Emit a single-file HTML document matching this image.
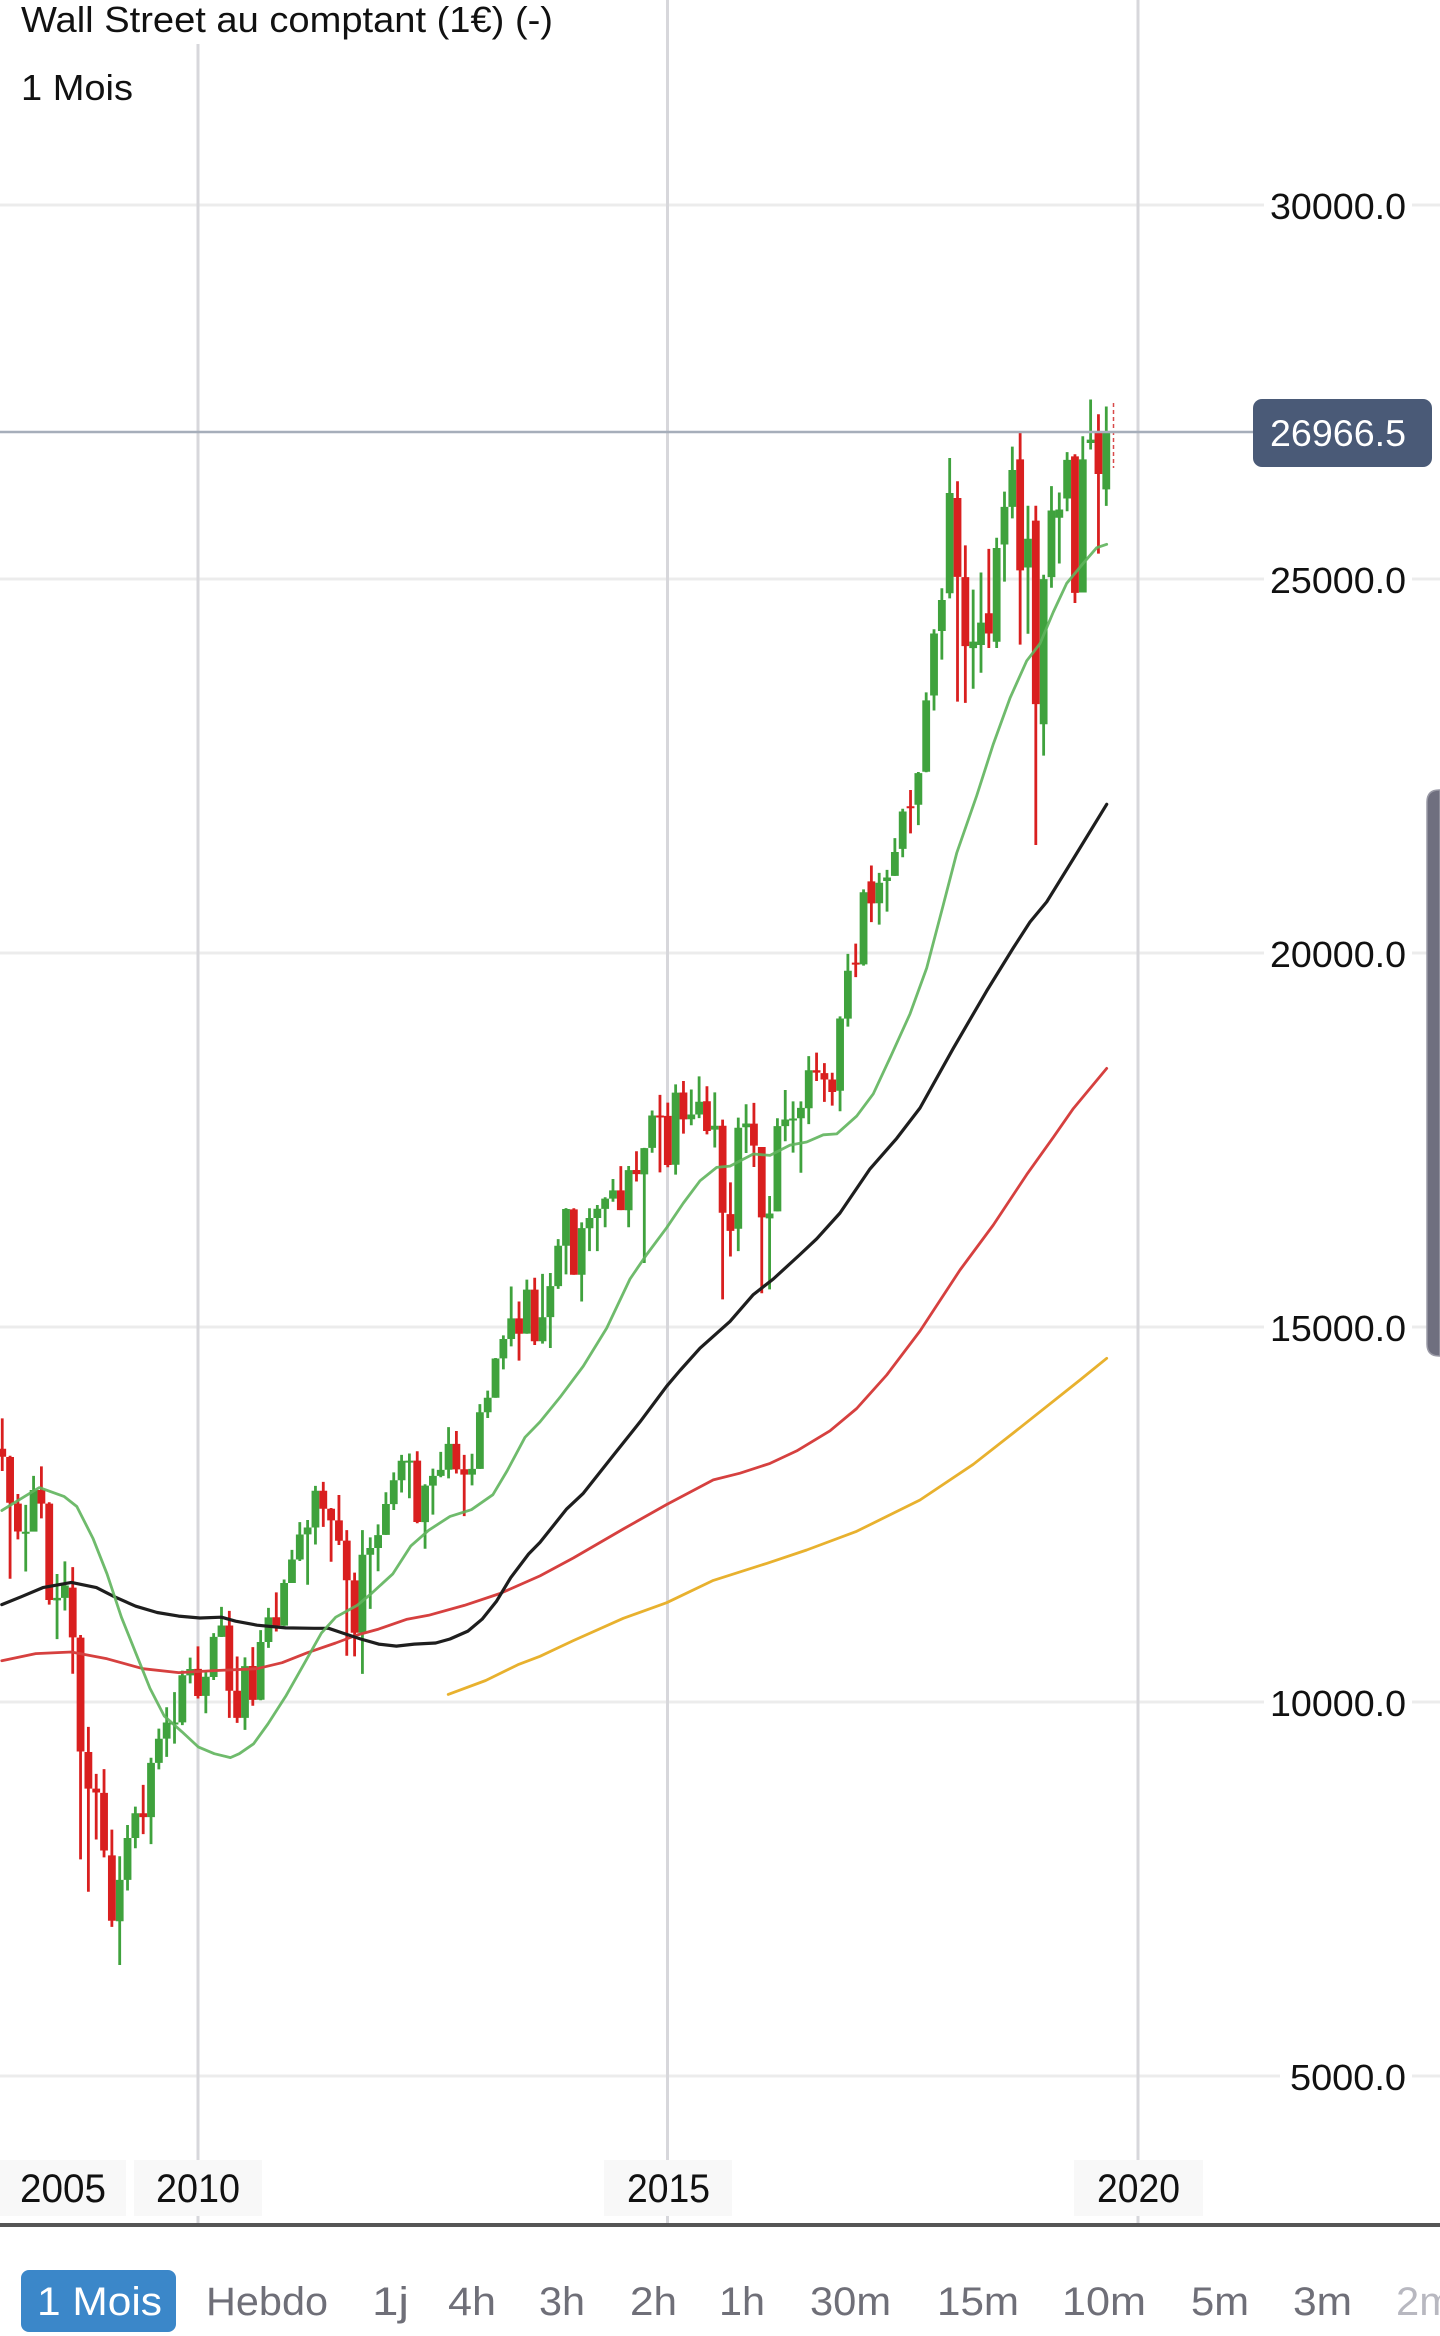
<!DOCTYPE html>
<html>
<head>
<meta charset="utf-8">
<style>
html,body{margin:0;padding:0;background:#fff;}
body{width:1440px;height:2336px;overflow:hidden;}
svg{display:block;}
text{font-family:"Liberation Sans",Arial,sans-serif;}
</style>
</head>
<body>
<svg id="chart" width="1440" height="2336" viewBox="0 0 1440 2336" xmlns="http://www.w3.org/2000/svg">
  <rect x="0" y="0" width="1440" height="2336" fill="#ffffff"/>
  <!-- horizontal gridlines -->
  <g stroke="#ececec" stroke-width="3">
    <line x1="0" y1="205" x2="1440" y2="205"/>
    <line x1="0" y1="579" x2="1440" y2="579"/>
    <line x1="0" y1="953" x2="1440" y2="953"/>
    <line x1="0" y1="1327" x2="1440" y2="1327"/>
    <line x1="0" y1="1702" x2="1440" y2="1702"/>
    <line x1="0" y1="2076" x2="1440" y2="2076"/>
  </g>
  <!-- vertical gridlines -->
  <g stroke="#d7d7db" stroke-width="3">
    <line x1="198" y1="44" x2="198" y2="2224"/>
    <line x1="667.5" y1="0" x2="667.5" y2="2224"/>
    <line x1="1138" y1="0" x2="1138" y2="2224"/>
  </g>

  <g id="candles"></g>

  <!-- moving averages -->
  <g fill="none" stroke-linejoin="round" stroke-linecap="round">
    <polyline id="maY" stroke="#e8b12e" stroke-width="2.8" points=""/>
    <polyline id="maR" stroke="#d6403f" stroke-width="2.8" points=""/>
    <polyline id="maK" stroke="#1e1e1e" stroke-width="3.2" points=""/>
    <polyline id="maG" stroke="#5fb45c" stroke-opacity="0.9" stroke-width="2.8" points=""/>
  </g>

  <!-- current marker -->
  <line x1="1113.5" y1="403" x2="1113.5" y2="468" stroke="#d84a4a" stroke-width="1.5" stroke-dasharray="4 3"/>

  <!-- price line -->
  <line x1="0" y1="432" x2="1254" y2="432" stroke="#a6aeba" stroke-width="2.5"/>

  <!-- title -->
  <rect x="0" y="0" width="570" height="44" fill="#ffffff"/>
  <text x="21" y="32" font-size="36" fill="#111" textLength="532" lengthAdjust="spacingAndGlyphs">Wall Street au comptant (1€) (-)</text>
  <text x="21" y="100" font-size="36" fill="#111" textLength="112" lengthAdjust="spacingAndGlyphs">1 Mois</text>

  <!-- y axis labels -->
  <g fill="#ffffff">
    <rect x="1264" y="186" width="148" height="40"/>
    <rect x="1264" y="560" width="148" height="40"/>
    <rect x="1264" y="934" width="148" height="40"/>
    <rect x="1264" y="1308" width="148" height="40"/>
    <rect x="1264" y="1683" width="148" height="40"/>
    <rect x="1280" y="2057" width="132" height="40"/>
  </g>
  <g font-size="36.5" fill="#111">
    <text x="1270" y="219" textLength="136" lengthAdjust="spacingAndGlyphs">30000.0</text>
    <text x="1270" y="593" textLength="136" lengthAdjust="spacingAndGlyphs">25000.0</text>
    <text x="1270" y="967" textLength="136" lengthAdjust="spacingAndGlyphs">20000.0</text>
    <text x="1270" y="1341" textLength="136" lengthAdjust="spacingAndGlyphs">15000.0</text>
    <text x="1270" y="1716" textLength="136" lengthAdjust="spacingAndGlyphs">10000.0</text>
    <text x="1290" y="2090" textLength="116" lengthAdjust="spacingAndGlyphs">5000.0</text>
  </g>

  <!-- price tag -->
  <rect x="1253" y="399" width="179" height="68" rx="9" ry="9" fill="#4a5a77"/>
  <text x="1270" y="446" font-size="37" fill="#ffffff" textLength="136" lengthAdjust="spacingAndGlyphs">26966.5</text>

  <!-- scrollbar -->
  <path d="M1440,790 L1439,790 Q1427,790 1427,802 L1427,1344 Q1427,1356 1439,1356 L1440,1356 Z" fill="#6f6f7f" stroke="#9a9aa6" stroke-width="1.5"/>

  <!-- x axis labels -->
  <g fill="#f8f8f8">
    <rect x="0" y="2160" width="126" height="56"/>
    <rect x="134" y="2160" width="128" height="56"/>
    <rect x="604" y="2160" width="128" height="56"/>
    <rect x="1074" y="2160" width="129" height="56"/>
  </g>
  <g font-size="40" fill="#111">
    <text x="20" y="2202" textLength="86" lengthAdjust="spacingAndGlyphs">2005</text>
    <text x="156" y="2202" textLength="84" lengthAdjust="spacingAndGlyphs">2010</text>
    <text x="627" y="2202" textLength="83" lengthAdjust="spacingAndGlyphs">2015</text>
    <text x="1097" y="2202" textLength="83" lengthAdjust="spacingAndGlyphs">2020</text>
  </g>

  <!-- bottom axis line -->
  <rect x="0" y="2223" width="1440" height="4" fill="#555555"/>

  <!-- timeframe bar -->
  <rect x="21" y="2270" width="155" height="62" rx="8" ry="8" fill="#3b87c9"/>
  <text x="37" y="2315" font-size="40" fill="#ffffff" textLength="125" lengthAdjust="spacingAndGlyphs">1 Mois</text>
  <g font-size="40" fill="#6f6f78">
    <text x="206" y="2315" textLength="122" lengthAdjust="spacingAndGlyphs">Hebdo</text>
    <text x="372" y="2315" textLength="37" lengthAdjust="spacingAndGlyphs">1j</text>
    <text x="448" y="2315" textLength="48" lengthAdjust="spacingAndGlyphs">4h</text>
    <text x="539" y="2315" textLength="46" lengthAdjust="spacingAndGlyphs">3h</text>
    <text x="630" y="2315" textLength="47" lengthAdjust="spacingAndGlyphs">2h</text>
    <text x="719" y="2315" textLength="46" lengthAdjust="spacingAndGlyphs">1h</text>
    <text x="810" y="2315" textLength="81" lengthAdjust="spacingAndGlyphs">30m</text>
    <text x="937" y="2315" textLength="82" lengthAdjust="spacingAndGlyphs">15m</text>
    <text x="1062" y="2315" textLength="84" lengthAdjust="spacingAndGlyphs">10m</text>
    <text x="1191" y="2315" textLength="58" lengthAdjust="spacingAndGlyphs">5m</text>
    <text x="1293" y="2315" textLength="59" lengthAdjust="spacingAndGlyphs">3m</text>
  </g>
  <text x="1396" y="2315" font-size="40" fill="#b8b8c0" textLength="58" lengthAdjust="spacingAndGlyphs">2m</text>
</svg>
<script>
(function(){
  var NS="http://www.w3.org/2000/svg";
  function Y(p){return 2449-0.0748*p;}
  var d=[
  [13930,13944,12724,13372],[13372,13779,13075,13265],
  [13262,13279,11634,12650],[12638,12767,12161,12266],[12262,12622,11731,12263],[12264,13010,12266,12820],[12821,13136,12442,12638],[12638,12657,11288,11350],[11346,11698,10827,11378],[11378,11867,11210,11544],[11516,11790,10365,10851],[10847,10882,7882,9325],[9319,9654,7449,8829],[8829,9026,8149,8776],
  [8772,9089,7909,8001],[7936,8280,6980,7063],[7056,7924,6470,7609],[7609,8342,7466,8168],[8168,8588,8031,8500],[8500,8878,8221,8447],[8447,9242,8087,9172],[9172,9630,9086,9496],[9497,9917,9253,9712],[9712,10119,9430,9713],[9714,10406,9678,10345],[10343,10580,10236,10428],
  [10430,10730,10034,10067],[10068,10410,9836,10325],[10321,10908,10281,10857],[10857,11259,10856,11009],[11009,11205,9775,10137],[10137,10595,9708,9774],[9774,10584,9614,10466],[10468,10720,9936,10015],[10016,10948,10010,10788],[10789,11245,10711,11118],[11120,11452,10929,11006],[11007,11625,11004,11578],
  [11577,12021,11578,11892],[11892,12391,11871,12226],[12227,12419,11555,12320],[12320,12876,12093,12811],[12811,12929,12328,12570],[12570,12580,11862,12414],[12415,12754,12085,12143],[12144,12284,10605,11614],[11613,11717,10597,10913],[10913,12284,10362,11955],[11955,12188,11231,12046],[12046,12361,11735,12218],
  [12221,12790,12221,12633],[12632,13056,12553,12952],[12952,13290,12787,13212],[13214,13309,12711,13214],[13214,13339,12376,12393],[12391,12898,12036,12880],[12879,13107,12492,13009],[13009,13330,12992,13090],[13092,13661,12976,13437],[13437,13610,13042,13096],[13098,13290,12471,13026],[13027,13305,12883,13104],
  [13104,13969,13104,13861],[13860,14149,13784,14054],[14054,14585,14054,14579],[14580,14888,14434,14840],[14840,15542,14741,15116],[15116,15341,14551,14910],[14911,15634,14910,15500],[15500,15658,14760,14810],[14810,15710,14777,15130],[15132,15722,14720,15546],[15546,16175,15510,16086],[16087,16589,15703,16577],
  [16572,16588,15698,15699],[15698,16398,15341,16322],[16321,16588,16015,16458],[16458,16631,16015,16581],[16580,16735,16334,16717],[16716,16978,16674,16827],[16827,17151,16563,16563],[16561,17153,16334,17098],[17099,17350,16945,17043],[17041,17395,15855,17391],[17395,17895,17329,17828],[17827,18103,17067,17823],
  [17823,18000,17136,17165],[17169,18244,17037,18133],[18135,18288,17585,17776],[17778,18175,17698,17841],[17841,18351,17792,18011],[18018,18218,17575,17620],[17638,18137,17400,17690],[17690,17772,15370,16528],[16509,16934,15943,16285],[16314,17799,16014,17664],[17671,17978,17327,17720],[17719,17997,17139,17425],
  [17406,17406,15451,16466],[16452,16752,15503,16517],[16546,17791,16546,17685],[17686,18168,17484,17774],[17783,18016,17331,17787],[17790,18016,17063,17930],[17924,18622,17713,18432],[18432,18668,18288,18401],[18394,18527,18009,18308],[18309,18399,17959,18142],[18158,19152,17884,19124],[19122,19988,19016,19763],
  [19872,20126,19677,19864],[19848,20851,19831,20812],[20957,21169,20413,20663],[20665,21071,20379,20940],[20962,21112,20553,21009],[21031,21535,21031,21350],[21392,21929,21280,21891],[21962,22179,21600,21948],[21982,22420,21709,22405],[22423,23485,22417,23377],[23443,24328,23242,24272],[24305,24876,23922,24719],
  [24809,26617,24741,26149],[26083,26306,23360,25029],[25025,25449,23344,24103],[24076,24858,23532,24163],[24117,25087,23747,24416],[24542,25403,24078,24271],[24161,25552,24077,25415],[25461,26168,24965,25965],[25965,26769,25810,26458],[26599,26952,24123,25116],[25153,25980,24268,25538],[25780,25980,21444,23327],
  [23059,25056,22639,24999],[25025,26242,24883,25916],[25819,26156,25208,25929],[26076,26696,25905,26593],[26639,26668,24680,24815],[24819,26908,24819,26600],[26818,27399,26732,26864],[26963,27202,25339,26403],[26198,27306,25978,26967]
  ];
  var g=document.getElementById("candles");
  var i0=-26, sp=7.83, bw=7.8, ww=2.8;
  var gp="", rp="", gw="", rw="";
  for(var k=0;k<d.length;k++){
    var o=d[k][0],h=d[k][1],l=d[k][2],c=d[k][3];
    var x=198+sp*(i0+k);
    var up=c>=o;
    var yt=Y(Math.max(o,c)), yb=Y(Math.min(o,c));
    if(yb-yt<2){yb=yt+2;}
    var yh=Y(h), yl=Y(l);
    var body="M"+(x-bw/2).toFixed(2)+","+yt.toFixed(2)+"h"+bw+"V"+yb.toFixed(2)+"h"+(-bw)+"Z";
    var wick="M"+(x-ww/2).toFixed(2)+","+yh.toFixed(2)+"h"+ww+"V"+yl.toFixed(2)+"h"+(-ww)+"Z";
    if(up){gp+=body;gw+=wick;}else{rp+=body;rw+=wick;}
  }
  function addPath(dd,fill){var p=document.createElementNS(NS,"path");p.setAttribute("d",dd);p.setAttribute("fill",fill);g.appendChild(p);}
  addPath(gw,"#3fa23d");addPath(rw,"#d91f1f");addPath(gp,"#3fa23d");addPath(rp,"#d91f1f");

  var G=[[1.8,1510.5],[17.9,1500.6],[39.3,1487.6],[64.3,1496.6],[76.8,1506.5],[92.9,1538.2],[107,1573.8],[121.4,1617.2],[135.7,1652.8],[150,1688.4],[164.3,1716.1],[182.1,1731.9],[198.2,1746.9],[214.3,1753.7],[230.4,1757.6],[239.3,1753.7],[253.6,1743.8],[267.9,1724],[285.7,1696.3],[303.6,1664.7],[321.4,1633.1],[335.7,1617.2],[357.1,1605.4],[371.4,1593.5],[392.9,1573.8],[410.7,1546.1],[428.6,1530.3],[450,1516.4],[471.4,1509.7],[492.9,1494.7],[507.1,1470.9],[525,1437.3],[540,1421.9],[560,1397.3],[583.3,1366.1],[606.7,1328.1],[630,1279],[646.7,1254.5],[666.7,1227.7],[683.3,1203.1],[700,1180.8],[716.7,1167.4],[730,1166.1],[753.3,1154],[770,1155.4],[790,1145.1],[806.7,1142],[823.3,1134.8],[836.7,1133.9],[856.7,1116.1],[873.3,1093.8],[890,1058],[910,1013.9],[926.7,968],[943.3,904.8],[956.7,853.1],[976.7,795.7],[993.3,744.1],[1010,698.1],[1026.7,660.8],[1040,643.6],[1053.3,612],[1066.7,583.3],[1083.3,563.2],[1096.7,547.7],[1106.7,544.3]];
  var K=[[1.8,1604.6],[21.4,1596.7],[42.9,1587.6],[71.4,1582.4],[96.4,1587.6],[114.3,1596.7],[135.7,1606.2],[157.1,1612.5],[178.6,1616.1],[200,1618],[221.4,1617.2],[235.7,1621.2],[257.1,1625.2],[285.7,1627.9],[314.3,1628.3],[328.6,1628.3],[342.9,1633.1],[360.7,1639],[378.6,1644.1],[396.4,1646.1],[414.3,1644.1],[435.7,1643],[450,1639],[467.9,1631.1],[482.1,1619.2],[496.4,1601.4],[510.7,1577.7],[528.6,1554],[540,1542.4],[566.7,1508.9],[583.3,1493.3],[613.3,1455.4],[640,1421.9],[666.7,1386.2],[680,1370.5],[700,1348.2],[730,1321.4],[753.3,1294.6],[773.3,1279],[800,1254.5],[816.7,1238.8],[840,1213],[870,1168.9],[896.7,1138.4],[920,1108],[953.3,1048.3],[986.7,990.9],[1013.3,947.9],[1030,922],[1046.7,901.9],[1073.3,858.9],[1106.7,804.3]];
  var R=[[1.8,1660.7],[35.7,1653.6],[71.4,1652],[107.1,1658.8],[142.9,1668.7],[178.6,1672.6],[214.3,1670.6],[257.1,1668.7],[282.1,1662.7],[307.1,1652.8],[335.7,1643],[357.1,1635],[378.6,1629.1],[407.1,1619.2],[428.6,1615.3],[464.3,1605.4],[500,1593.5],[540,1575.9],[573.3,1558],[623.3,1529],[666.7,1504.5],[713.3,1479.9],[740,1473.2],[770,1463.4],[796.7,1450.9],[830,1430.8],[856.7,1408.5],[886.7,1375],[920,1331],[960,1270],[993.3,1225],[1026.7,1174.6],[1053.3,1137.3],[1073.3,1108.6],[1106.7,1068.4]];
  var YL=[[448.2,1694.4],[485.7,1680.5],[517.9,1664.7],[540,1656.3],[573.3,1640.6],[623.3,1618.3],[666.7,1602.7],[713.3,1580.4],[766.7,1563.4],[806.7,1550],[856.7,1531.3],[920,1500],[973.3,1464.3],[1020,1427.7],[1080,1380],[1106.7,1358.3]];
  function pts(a){return a.map(function(p){return p[0]+","+p[1];}).join(" ");}
  document.getElementById("maG").setAttribute("points",pts(G));
  document.getElementById("maK").setAttribute("points",pts(K));
  document.getElementById("maR").setAttribute("points",pts(R));
  document.getElementById("maY").setAttribute("points",pts(YL));
})();
</script>
</body>
</html>
